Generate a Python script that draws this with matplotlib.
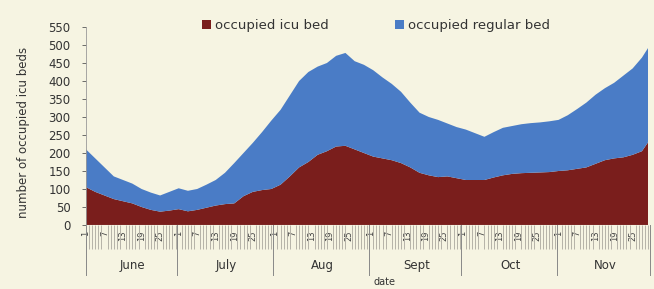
import matplotlib
matplotlib.use("Agg")
import matplotlib.pyplot as plt
import numpy as np
import pandas as pd

# ---- data ----
days = [0, 3, 6, 9, 12, 15, 18, 21, 24, 27, 30, 33, 36, 39, 42, 45, 48, 51, 54, 57,
        60, 63, 66, 69, 72, 75, 78, 81, 84, 87, 90, 93, 96, 99, 102, 105, 108, 111,
        114, 117, 120, 123, 126, 129, 132, 135, 138, 141, 144, 147, 150, 153, 156,
        159, 162, 165, 168, 171, 174, 177, 180, 182]
total_beds = [210, 185, 160, 135, 125, 115, 100, 90, 82, 92, 102, 95, 100, 112, 125,
              145, 172, 200, 228, 258, 290, 320, 360, 400, 425, 440, 450, 470, 478,
              455, 445, 430, 410, 392, 370, 340, 312, 300, 292, 282, 272, 265, 255,
              245, 258, 270, 275, 280, 283, 285, 288, 292, 305, 322, 340, 362, 380,
              395, 415, 435, 465, 492]
icu_beds = [105, 92, 82, 72, 66, 60, 50, 42, 37, 40, 44, 38, 42, 48, 54, 58, 60, 80,
            92, 97, 100, 112, 135, 160, 175, 195, 205, 218, 220, 210, 200, 190, 185,
            180, 172, 160, 145, 138, 133, 135, 130, 125, 125, 125, 132, 138, 142, 144,
            145, 146, 147, 150, 152, 156, 160, 170, 180, 185, 188, 195, 205, 230]
regular_beds = [t - i for t, i in zip(total_beds, icu_beds)]
months = ["June", "July", "Aug", "Sept", "Oct", "Nov"]
month_days = [30, 31, 31, 30, 31, 30]
tick_days_in_month = [1, 7, 13, 19, 25]
yticks = [0, 50, 100, 150, 200, 250, 300, 350, 400, 450, 500, 550]

BG = "#f6f4e2"
RED = "#7a1e1c"
BLUE = "#4a7cc6"

fig = plt.figure(figsize=(6.54, 2.89), dpi=100, facecolor=BG)
ax = fig.add_axes([0.1315, 0.2215, 0.8595, 0.685], facecolor=BG)

x = np.array(days, dtype=float)
ax.stackplot(x, icu_beds, regular_beds, colors=[RED, BLUE],
             labels=["occupied icu bed", "occupied regular bed"], linewidth=0)

ndays = sum(month_days)
ax.set_xlim(0, ndays - 1)
ax.set_ylim(0, 550)
ax.set_yticks(yticks)
ax.tick_params(axis="y", labelsize=8.5, colors="#555555", length=3, width=0.6,
               labelcolor="#333333", pad=8)
for s in ["top", "right", "bottom"]:
    ax.spines[s].set_visible(False)
ax.spines["left"].set_color("#999999")
ax.spines["left"].set_linewidth(0.6)

# x ticks: daily minor, labelled majors
ax.set_xticks(np.arange(0, ndays), minor=True)
ax.tick_params(axis="x", which="minor", length=17, color="#b5b2a8", width=0.7)
major_pos, major_lab = [], []
off = 0
for md in month_days:
    for d in tick_days_in_month:
        major_pos.append(off + d - 1)
        major_lab.append(str(d))
    off += md
ax.set_xticks(major_pos)
ax.set_xticklabels(major_lab, rotation=90, fontsize=6, color="#444444")
ax.tick_params(axis="x", which="major", length=0, pad=4)
ax.axhline(0, color="#aaa9a0", lw=0.8)

# month groups
from matplotlib.lines import Line2D
trans = ax.get_xaxis_transform()
off = 0
bounds = [0]
for m, md in zip(months, month_days):
    ax.text(off + md / 2, -0.205, m, transform=trans, ha="center", va="center",
            fontsize=8.5, color="#333333")
    off += md
    bounds.append(off - 0.5)
for b in bounds:
    ax.add_line(Line2D([b, b], [0, -0.255], transform=trans, color="#888888",
                       lw=0.7, clip_on=False))
ax.text(ndays / 2 + 5, -0.29, "date", transform=trans, ha="center", va="center",
        fontsize=7, color="#333333")

ax.set_ylabel("number of occupied icu beds", fontsize=8.5, color="#333333", labelpad=3)
ax.yaxis.set_label_coords(-0.1, 0.47)

fig.legend(loc="center", bbox_to_anchor=(0.575, 0.912), ncol=2, frameon=False,
           fontsize=9.5, handlelength=0.7, handleheight=0.7, columnspacing=5.0,
           handletextpad=0.3, labelcolor="#333333")

fig.savefig("out.png", dpi=100, facecolor=BG)
